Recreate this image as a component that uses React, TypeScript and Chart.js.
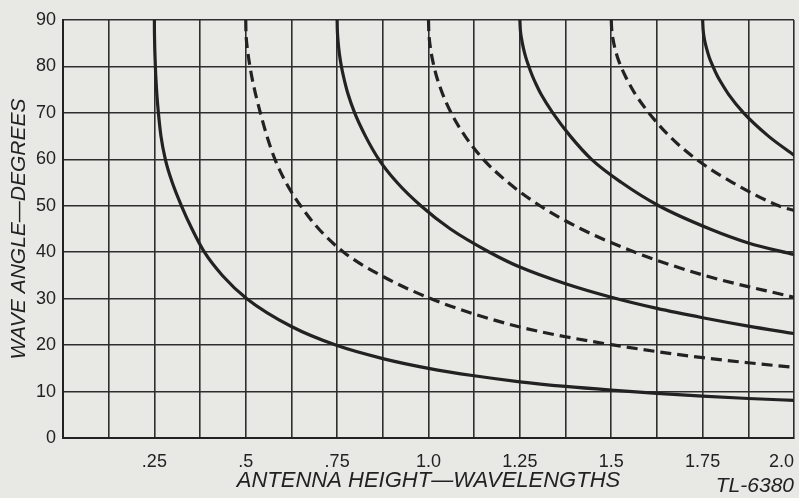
import React, { useEffect, useRef } from "react";
import { Chart, registerables } from "chart.js";

Chart.register(...registerables);

// Antenna height (wavelengths) and wave angle (degrees)
const curveAH = [0.25, 0.25013, 0.2505, 0.251, 0.2518, 0.2527, 0.2538, 0.2552, 0.2568, 0.261, 0.268, 0.28, 0.299, 0.324, 0.353, 0.387, 0.436, 0.503, 0.625, 0.75, 0.875, 1.0, 1.125, 1.25, 1.375, 1.5, 1.625, 1.75, 1.875, 2.0];
const curveAV = [90, 88, 86, 84, 82, 80, 78, 76, 74, 70, 65, 60, 55, 50, 45, 40, 35, 30, 24, 19.9, 17.1, 15, 13.4, 12.1, 11.1, 10.3, 9.6, 9, 8.5, 8.1];

const curveBH = [0.5, 0.50035, 0.5015, 0.5042, 0.5075, 0.5115, 0.516, 0.5212, 0.527, 0.54, 0.558, 0.58, 0.61, 0.65, 0.7, 0.768, 0.87, 1.0, 1.125, 1.25, 1.375, 1.5, 1.625, 1.75, 1.875, 2.0];
const curveBV = [90, 88, 86, 84, 82, 80, 78, 76, 74, 70, 65, 60, 55, 50, 45, 40, 35, 30.2, 26.7, 23.9, 21.8, 20.1, 18.6, 17.3, 16.2, 15.2];

const curveCH = [0.75, 0.7505, 0.752, 0.7543, 0.7575, 0.7617, 0.767, 0.7731, 0.78, 0.798, 0.8275, 0.864, 0.914, 0.979, 1.06, 1.167, 1.25, 1.375, 1.5, 1.625, 1.75, 1.875, 2.0];
const curveCV = [90, 88, 86, 84, 82, 80, 78, 76, 74, 70, 65, 60, 55, 50, 45, 40, 36.8, 33.2, 30.3, 27.9, 25.9, 24.1, 22.5];

const curveDH = [1.0, 1.0006, 1.0022, 1.0053, 1.0095, 1.015, 1.0215, 1.0297, 1.039, 1.062, 1.1, 1.15, 1.218, 1.305, 1.418, 1.565, 1.755, 2.0];
const curveDV = [90, 88, 86, 84, 82, 80, 78, 76, 74, 70, 65, 60, 55, 50, 45, 40, 35, 30.3];

const curveEH = [1.25, 1.2512, 1.2545, 1.2595, 1.266, 1.2745, 1.284, 1.2953, 1.308, 1.34, 1.388, 1.446, 1.528, 1.63, 1.77, 1.875, 2.0];
const curveEV = [90, 88, 86, 84, 82, 80, 78, 76, 74, 70, 65, 60, 55, 50, 45, 42, 39.5];

const curveFH = [1.5, 1.5012, 1.5045, 1.5098, 1.517, 1.5265, 1.538, 1.5512, 1.566, 1.603, 1.659, 1.733, 1.832, 1.958, 2.0];
const curveFV = [90, 88, 86, 84, 82, 80, 78, 76, 74, 70, 65, 60, 55, 50, 49];

const curveGH = [1.75, 1.7513, 1.7545, 1.7604, 1.768, 1.7782, 1.79, 1.8047, 1.821, 1.862, 1.93, 2.0];
const curveGV = [90, 88, 86, 84, 82, 80, 78, 76, 74, 70, 65, 60.9];

const xTickLabels = ["", "", ".25", "", ".5", "", ".75", "", "1.0", "", "1.25", "", "1.5", "", "1.75", "", "2.0"];
const yTickLabels = ["0", "10", "20", "30", "40", "50", "60", "70", "80", "90"];

const xTitle = "ANTENNA HEIGHT\u2014WAVELENGTHS";
const yTitle = "WAVE ANGLE\u2014DEGREES";
const cornerNote = "TL-6380";

const INK = "#222222";
const PAPER = "#e8e8e5";

function pts(h: number[], v: number[]) {
  return h.map((x, i) => ({ x, y: v[i] }));
}

export default function App() {
  const ref = useRef<HTMLCanvasElement | null>(null);

  useEffect(() => {
    if (!ref.current) return;
    const solid = { borderColor: INK, borderWidth: 3.2, pointRadius: 0, cubicInterpolationMode: "monotone" as const, fill: false, borderJoinStyle: "round" as const };
    const dashed = { ...solid, borderDash: [11, 6] };

    const notePlugin = {
      id: "note",
      afterDraw(chart: any) {
        const ctx = chart.ctx as CanvasRenderingContext2D;
        ctx.save();
        ctx.fillStyle = INK;
        ctx.font = 'italic 21px "Liberation Sans"';
        ctx.textAlign = "right";
        ctx.textBaseline = "middle";
        ctx.fillText(cornerNote, 794, 486);
        ctx.restore();
      },
    };

    const chart = new Chart(ref.current, {
      type: "line",
      data: {
        datasets: [
          { ...solid, data: pts(curveAH, curveAV) },
          { ...dashed, data: pts(curveBH, curveBV) },
          { ...solid, data: pts(curveCH, curveCV) },
          { ...dashed, data: pts(curveDH, curveDV) },
          { ...solid, data: pts(curveEH, curveEV) },
          { ...dashed, data: pts(curveFH, curveFV) },
          { ...solid, data: pts(curveGH, curveGV) },
        ] as any,
      },
      options: {
        animation: false,
        responsive: true,
        maintainAspectRatio: false,
        layout: { padding: { top: 20, right: 5, left: 0, bottom: 0 } },
        plugins: { legend: { display: false }, tooltip: { enabled: false } },
        scales: {
          x: {
            type: "linear",
            min: 0,
            max: 2,
            grid: { color: "#2e2e2e", lineWidth: 1.6, drawTicks: false },
            border: { color: INK, width: 2 },
            ticks: {
              stepSize: 0.125,
              autoSkip: false,
              maxRotation: 0,
              align: "inner",
              padding: 13,
              color: INK,
              font: { family: '"Liberation Sans"', size: 18 },
              callback: (_v: any, i: number) => xTickLabels[i] ?? "",
            },
            title: {
              display: true,
              text: xTitle,
              color: INK,
              font: { family: '"Liberation Sans"', size: 22, style: "italic" },
              padding: { top: 0, bottom: 4 },
            },
            afterFit: (s: any) => {
              s.height = 60;
              s.paddingLeft = 0;
              s.paddingRight = 0;
            },
          },
          y: {
            type: "linear",
            min: 0,
            max: 90,
            grid: { color: "#2e2e2e", lineWidth: 1.6, drawTicks: false },
            border: { color: INK, width: 2 },
            ticks: {
              stepSize: 10,
              padding: 7,
              color: INK,
              font: { family: '"Liberation Sans"', size: 18 },
              callback: (_v: any, i: number) => yTickLabels[i] ?? "",
            },
            title: {
              display: true,
              text: yTitle,
              color: INK,
              font: { family: '"Liberation Sans"', size: 21, style: "italic" },
              padding: { top: 7, bottom: 0 },
            },
            afterFit: (s: any) => {
              s.width = 63;
              s.paddingTop = 0;
              s.paddingBottom = 0;
            },
          },
        },
      } as any,
      plugins: [notePlugin],
    });
    return () => chart.destroy();
  }, []);

  return (
    <div style={{ position: "fixed", left: 0, top: 0, width: 799, height: 498, background: PAPER }}>
      <canvas ref={ref} />
    </div>
  );
}
